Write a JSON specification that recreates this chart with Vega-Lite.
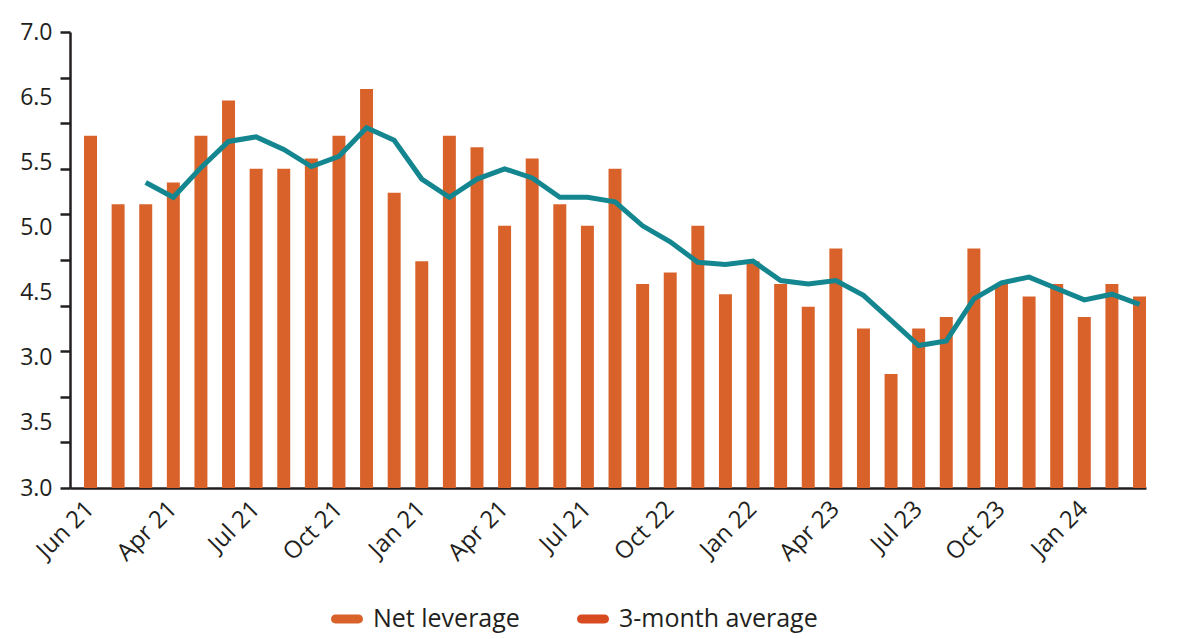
{
  "$schema": "https://vega.github.io/schema/vega-lite/v6.json",
  "autosize": {"type": "none"},
  "width": 1076,
  "height": 456,
  "padding": {"left": 70, "top": 32, "right": 35, "bottom": 151},
  "background": "white",
  "config": {
    "view": {"stroke": null},
    "font": "Open Sans",
    "axis": {"labelFont": "Open Sans", "labelColor": "#231f20", "domainColor": "#231f20", "tickColor": "#231f20", "grid": false, "title": null}
  },
  "data": {
    "values": [
      {"i": 0, "lev": 6.09, "avg": null},
      {"i": 1, "lev": 5.49, "avg": null},
      {"i": 2, "lev": 5.49, "avg": 5.68},
      {"i": 3, "lev": 5.68, "avg": 5.55},
      {"i": 4, "lev": 6.09, "avg": 5.81},
      {"i": 5, "lev": 6.40, "avg": 6.04},
      {"i": 6, "lev": 5.80, "avg": 6.08},
      {"i": 7, "lev": 5.80, "avg": 5.97},
      {"i": 8, "lev": 5.89, "avg": 5.82},
      {"i": 9, "lev": 6.09, "avg": 5.91},
      {"i": 10, "lev": 6.50, "avg": 6.16},
      {"i": 11, "lev": 5.59, "avg": 6.05},
      {"i": 12, "lev": 4.99, "avg": 5.71},
      {"i": 13, "lev": 6.09, "avg": 5.55},
      {"i": 14, "lev": 5.99, "avg": 5.71},
      {"i": 15, "lev": 5.30, "avg": 5.80},
      {"i": 16, "lev": 5.89, "avg": 5.72},
      {"i": 17, "lev": 5.49, "avg": 5.55},
      {"i": 18, "lev": 5.30, "avg": 5.55},
      {"i": 19, "lev": 5.80, "avg": 5.51},
      {"i": 20, "lev": 4.79, "avg": 5.30},
      {"i": 21, "lev": 4.89, "avg": 5.16},
      {"i": 22, "lev": 5.30, "avg": 4.98},
      {"i": 23, "lev": 4.70, "avg": 4.96},
      {"i": 24, "lev": 4.99, "avg": 4.99},
      {"i": 25, "lev": 4.79, "avg": 4.82},
      {"i": 26, "lev": 4.59, "avg": 4.79},
      {"i": 27, "lev": 5.10, "avg": 4.82},
      {"i": 28, "lev": 4.40, "avg": 4.69},
      {"i": 29, "lev": 4.00, "avg": 4.47},
      {"i": 30, "lev": 4.40, "avg": 4.25},
      {"i": 31, "lev": 4.50, "avg": 4.29},
      {"i": 32, "lev": 5.10, "avg": 4.66},
      {"i": 33, "lev": 4.79, "avg": 4.80},
      {"i": 34, "lev": 4.68, "avg": 4.85},
      {"i": 35, "lev": 4.79, "avg": 4.75},
      {"i": 36, "lev": 4.50, "avg": 4.65},
      {"i": 37, "lev": 4.79, "avg": 4.70},
      {"i": 38, "lev": 4.68, "avg": 4.61}
    ]
  },
  "encoding": {
    "x": {
      "field": "i",
      "type": "ordinal",
      "scale": {"paddingInner": 0.53, "paddingOuter": 0.254, "align": 1},
      "axis": {
        "values": [0, 3, 6, 9, 12, 15, 18, 21, 24, 27, 30, 33, 36],
        "labelExpr": "['Jun 21','Apr 21','Jul 21','Oct 21','Jan 21','Apr 21','Jul 21','Oct 22','Jan 22','Apr 23','Jul 23','Oct 23','Jan 24'][datum.value/3]",
        "labelAngle": -45,
        "labelAlign": "right",
        "labelBaseline": "middle",
        "labelFontSize": 24,
        "labelPadding": 17,
        "ticks": false,
        "domainWidth": 2.5
      }
    }
  },
  "layer": [
    {
      "mark": {"type": "bar", "color": "#d9622b"},
      "encoding": {
        "y": {
          "field": "lev",
          "type": "quantitative",
          "scale": {"domain": [3, 7], "zero": false, "nice": false},
          "axis": {
            "orient": "left",
            "values": [3, 3.4, 3.8, 4.2, 4.6, 5, 5.4, 5.8, 6.2, 6.6, 7],
            "labels": false,
            "tickSize": 10,
            "tickWidth": 2.5,
            "domainWidth": 2.5
          }
        },
        "y2": {"datum": 3},
        "color": {
          "datum": "Net leverage",
          "type": "nominal",
          "scale": {"domain": ["Net leverage", "3-month average"], "range": ["#d9622b", "#d84a1f"]},
          "legend": {
            "orient": "none",
            "legendX": 261,
            "legendY": 571,
            "direction": "horizontal",
            "title": null,
            "symbolType": "M -0.72,-0.28 L 0.72,-0.28 A 0.28,0.28 0 0 1 0.72,0.28 L -0.72,0.28 A 0.28,0.28 0 0 1 -0.72,-0.28 Z",
            "symbolSize": 1024,
            "symbolStrokeWidth": 0,
            "symbolOpacity": 1,
            "labelFontSize": 25,
            "labelFont": "Open Sans",
            "labelColor": "#231f20",
            "labelOffset": 10,
            "columnPadding": 57,
            "labelLimit": 400
          }
        }
      }
    },
    {
      "mark": {"type": "line", "color": "#13868f", "strokeWidth": 5},
      "encoding": {
        "y": {
          "field": "avg",
          "type": "quantitative",
          "scale": {"domain": [3, 7], "zero": false, "nice": false},
          "axis": {
            "orient": "left",
            "values": [3, 3.5714, 4.1429, 4.7143, 5.2857, 5.8571, 6.4286, 7],
            "labelExpr": "['3.0','3.5','3.0','4.5','5.0','5.5','6.5','7.0'][round((datum.value-3)*1.75)]",
            "ticks": false,
            "domain": false,
            "labelFontSize": 23,
            "labelPadding": 18,
            "labelColor": "#231f20"
          }
        }
      }
    }
  ],
  "resolve": {"axis": {"y": "independent"}}
}
